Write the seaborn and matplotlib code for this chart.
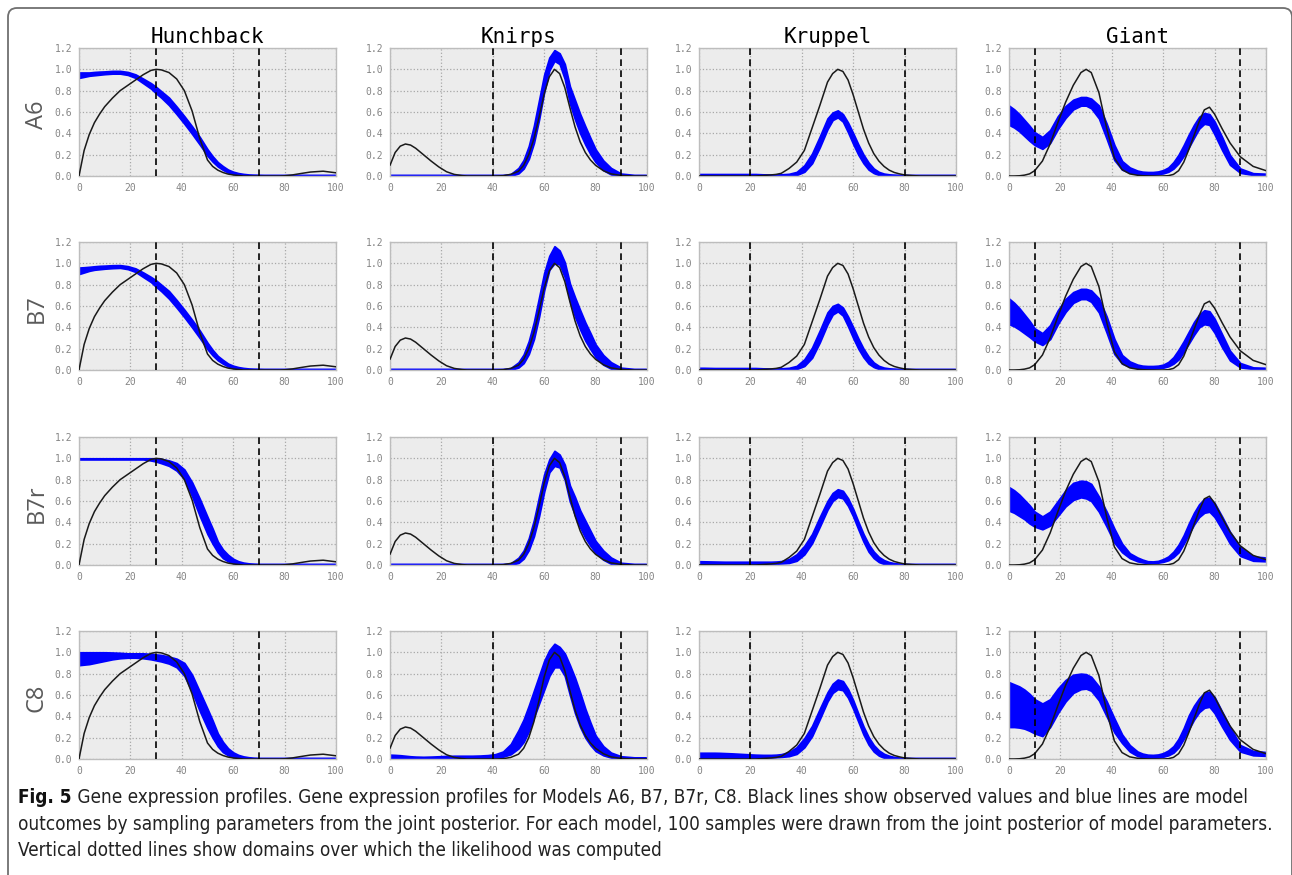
import matplotlib
matplotlib.use("Agg")
import matplotlib.pyplot as plt
import seaborn as sns
from matplotlib.patches import FancyBboxPatch
from matplotlib.transforms import IdentityTransform
from matplotlib import font_manager
from matplotlib.font_manager import FontProperties

# ---------------- data ----------------
GENES = ["Hunchback", "Knirps", "Kruppel", "Giant"]
MODELS = ["A6", "B7", "B7r", "C8"]
HB_DOMAIN = [30, 70]
KNI_DOMAIN = [40, 90]
KR_DOMAIN = [20, 80]
GT_DOMAIN = [10, 90]
X_TICKS = [0, 20, 40, 60, 80, 100]
Y_TICKS = [0.0, 0.2, 0.4, 0.6, 0.8, 1.0, 1.2]

X = [0, 2, 4, 6, 8, 10, 13, 16, 19, 22,
     25, 28, 30, 32, 35, 38, 41, 44, 47, 50,
     52, 54, 56, 58, 60, 62, 64, 66, 68, 70,
     72, 74, 76, 78, 80, 83, 86, 90, 95, 100]

# observed (black) profiles
HB_OBS = [0.0, 0.24, 0.39, 0.50, 0.58, 0.65, 0.73, 0.80, 0.85, 0.90,
          0.95, 0.99, 1.00, 0.995, 0.97, 0.91, 0.80, 0.61, 0.35, 0.15,
          0.09, 0.055, 0.033, 0.018, 0.01, 0.005, 0.0, 0.0, 0.0, 0.0,
          0.0, 0.0, 0.0, 0.0, 0.002, 0.01, 0.022, 0.037, 0.045, 0.03]
KNI_OBS = [0.10, 0.22, 0.28, 0.30, 0.29, 0.26, 0.20, 0.14, 0.085, 0.04,
           0.015, 0.004, 0.0, 0.0, 0.0, 0.0, 0.0, 0.003, 0.015, 0.045,
           0.10, 0.20, 0.35, 0.55, 0.77, 0.93, 1.00, 0.96, 0.83, 0.64,
           0.46, 0.32, 0.22, 0.15, 0.10, 0.05, 0.02, 0.005, 0.0, 0.0]
KR_OBS = [0.0, 0.0, 0.0, 0.0, 0.0, 0.0, 0.0, 0.0, 0.0, 0.0,
          0.005, 0.01, 0.015, 0.025, 0.07, 0.13, 0.24, 0.45, 0.66, 0.88,
          0.96, 1.00, 0.98, 0.90, 0.76, 0.60, 0.44, 0.31, 0.21, 0.14,
          0.09, 0.055, 0.033, 0.02, 0.01, 0.004, 0.0, 0.0, 0.0, 0.0]
GT_OBS = [0.0, 0.0, 0.002, 0.008, 0.02, 0.05, 0.14, 0.30, 0.50, 0.69,
          0.85, 0.97, 1.00, 0.97, 0.78, 0.45, 0.17, 0.06, 0.02, 0.007,
          0.003, 0.001, 0.0, 0.0, 0.0, 0.003, 0.015, 0.05, 0.13, 0.25,
          0.38, 0.51, 0.62, 0.645, 0.58, 0.44, 0.31, 0.18, 0.09, 0.05]

# model outcomes (blue): lower / upper envelope of the 100 posterior samples
HB_A6_LO = [0.92, 0.93, 0.94, 0.945, 0.95, 0.955, 0.96, 0.96, 0.948, 0.92,
            0.87, 0.82, 0.775, 0.735, 0.665, 0.58, 0.49, 0.395, 0.295, 0.19,
            0.135, 0.09, 0.058, 0.033, 0.02, 0.011, 0.006, 0.004, 0.003, 0.002,
            0.002, 0.002, 0.002, 0.002, 0.002, 0.002, 0.002, 0.002, 0.002, 0.002]
HB_A6_HI = [0.97, 0.97, 0.97, 0.975, 0.978, 0.98, 0.985, 0.985, 0.975, 0.952,
            0.912, 0.87, 0.835, 0.795, 0.735, 0.65, 0.56, 0.465, 0.365, 0.25,
            0.185, 0.13, 0.092, 0.06, 0.04, 0.027, 0.019, 0.014, 0.012, 0.011,
            0.01, 0.01, 0.01, 0.01, 0.01, 0.01, 0.01, 0.01, 0.01, 0.01]
HB_B7_LO = [0.90, 0.915, 0.93, 0.94, 0.945, 0.95, 0.955, 0.958, 0.946, 0.92,
            0.872, 0.825, 0.78, 0.74, 0.67, 0.585, 0.495, 0.4, 0.3, 0.195,
            0.138, 0.092, 0.06, 0.034, 0.02, 0.011, 0.006, 0.004, 0.003, 0.002,
            0.002, 0.002, 0.002, 0.002, 0.002, 0.002, 0.002, 0.002, 0.002, 0.002]
HB_B7_HI = [0.96, 0.963, 0.967, 0.972, 0.976, 0.978, 0.982, 0.983, 0.973, 0.952,
            0.914, 0.872, 0.84, 0.8, 0.74, 0.655, 0.565, 0.47, 0.37, 0.255,
            0.188, 0.132, 0.094, 0.06, 0.04, 0.027, 0.019, 0.014, 0.012, 0.011,
            0.01, 0.01, 0.01, 0.01, 0.01, 0.01, 0.01, 0.01, 0.01, 0.01]
HB_B7R_LO = [0.99, 0.99, 0.99, 0.99, 0.99, 0.99, 0.99, 0.99, 0.99, 0.99,
             0.99, 0.98, 0.97, 0.955, 0.93, 0.885, 0.805, 0.645, 0.46, 0.29,
             0.20, 0.12, 0.065, 0.035, 0.018, 0.01, 0.005, 0.003, 0.002, 0.002,
             0.002, 0.002, 0.002, 0.002, 0.002, 0.002, 0.002, 0.002, 0.002, 0.002]
HB_B7R_HI = [1.0, 1.0, 1.0, 1.0, 1.0, 1.0, 1.0, 1.0, 1.0, 1.0,
             1.0, 1.0, 1.0, 0.995, 0.98, 0.955, 0.895, 0.775, 0.62, 0.45,
             0.34, 0.22, 0.145, 0.095, 0.058, 0.035, 0.022, 0.015, 0.012, 0.01,
             0.01, 0.01, 0.01, 0.01, 0.01, 0.01, 0.01, 0.01, 0.01, 0.01]
HB_C8_LO = [0.88, 0.885, 0.89, 0.90, 0.91, 0.92, 0.935, 0.945, 0.95, 0.95,
            0.945, 0.935, 0.925, 0.915, 0.895, 0.86, 0.78, 0.63, 0.45, 0.29,
            0.20, 0.12, 0.065, 0.035, 0.018, 0.01, 0.005, 0.003, 0.002, 0.002,
            0.002, 0.002, 0.002, 0.002, 0.002, 0.002, 0.002, 0.002, 0.002, 0.002]
HB_C8_HI = [1.0, 1.0, 1.0, 1.0, 1.0, 1.0, 0.998, 0.995, 0.99, 0.99,
            0.99, 0.985, 0.98, 0.975, 0.96, 0.94, 0.90, 0.79, 0.63, 0.47,
            0.36, 0.24, 0.16, 0.10, 0.062, 0.038, 0.024, 0.016, 0.012, 0.01,
            0.01, 0.01, 0.01, 0.01, 0.01, 0.01, 0.01, 0.01, 0.01, 0.01]

KNI_A6_LO = [0.0, 0.0, 0.0, 0.0, 0.0, 0.0, 0.0, 0.0, 0.0, 0.0,
             0.0, 0.0, 0.0, 0.0, 0.0, 0.0, 0.0, 0.0, 0.002, 0.025,
             0.07, 0.16, 0.31, 0.53, 0.79, 0.99, 1.08, 1.05, 0.91, 0.68,
             0.53, 0.40, 0.295, 0.205, 0.13, 0.055, 0.015, 0.002, 0.0, 0.0]
KNI_A6_HI = [0.01, 0.01, 0.01, 0.01, 0.01, 0.01, 0.01, 0.01, 0.01, 0.01,
             0.01, 0.01, 0.01, 0.01, 0.01, 0.01, 0.01, 0.01, 0.018, 0.075,
             0.15, 0.28, 0.47, 0.71, 0.95, 1.11, 1.18, 1.15, 1.05, 0.84,
             0.71, 0.58, 0.465, 0.355, 0.25, 0.145, 0.075, 0.022, 0.01, 0.01]
KNI_B7_LO = [0.0, 0.0, 0.0, 0.0, 0.0, 0.0, 0.0, 0.0, 0.0, 0.0,
             0.0, 0.0, 0.0, 0.0, 0.0, 0.0, 0.0, 0.0, 0.002, 0.024,
             0.065, 0.15, 0.29, 0.50, 0.75, 0.94, 1.00, 0.99, 0.87, 0.65,
             0.50, 0.38, 0.275, 0.195, 0.12, 0.05, 0.013, 0.002, 0.0, 0.0]
KNI_B7_HI = [0.01, 0.01, 0.01, 0.01, 0.01, 0.01, 0.01, 0.01, 0.01, 0.01,
             0.01, 0.01, 0.01, 0.01, 0.01, 0.01, 0.01, 0.01, 0.018, 0.072,
             0.145, 0.27, 0.45, 0.68, 0.91, 1.07, 1.16, 1.12, 1.01, 0.81,
             0.68, 0.56, 0.445, 0.345, 0.24, 0.14, 0.073, 0.021, 0.01, 0.01]
KNI_B7R_LO = [0.0, 0.0, 0.0, 0.0, 0.0, 0.0, 0.0, 0.0, 0.0, 0.0,
              0.0, 0.0, 0.0, 0.0, 0.0, 0.0, 0.0, 0.0, 0.002, 0.02,
              0.06, 0.14, 0.27, 0.46, 0.69, 0.87, 0.93, 0.915, 0.80, 0.595,
              0.465, 0.35, 0.255, 0.18, 0.115, 0.05, 0.012, 0.002, 0.0, 0.0]
KNI_B7R_HI = [0.01, 0.01, 0.01, 0.01, 0.01, 0.01, 0.01, 0.01, 0.01, 0.01,
              0.01, 0.01, 0.01, 0.01, 0.01, 0.01, 0.01, 0.01, 0.016, 0.068,
              0.135, 0.25, 0.42, 0.64, 0.85, 0.99, 1.07, 1.035, 0.94, 0.745,
              0.635, 0.51, 0.415, 0.32, 0.225, 0.135, 0.07, 0.02, 0.01, 0.01]
KNI_C8_LO = [0.01, 0.01, 0.008, 0.006, 0.005, 0.005, 0.005, 0.006, 0.008, 0.01,
             0.01, 0.01, 0.01, 0.01, 0.01, 0.012, 0.015, 0.022, 0.045, 0.10,
             0.16, 0.26, 0.39, 0.52, 0.65, 0.78, 0.86, 0.86, 0.78, 0.60,
             0.43, 0.30, 0.20, 0.13, 0.075, 0.035, 0.014, 0.006, 0.005, 0.005]
KNI_C8_HI = [0.04, 0.038, 0.035, 0.03, 0.025, 0.022, 0.02, 0.022, 0.025, 0.028,
             0.03, 0.03, 0.03, 0.03, 0.032, 0.036, 0.045, 0.07, 0.14, 0.27,
             0.37, 0.50, 0.64, 0.78, 0.92, 1.02, 1.08, 1.05, 0.99, 0.88,
             0.76, 0.62, 0.47, 0.34, 0.22, 0.12, 0.06, 0.025, 0.015, 0.015]

KR_A6_LO = [0.005, 0.005, 0.005, 0.005, 0.005, 0.005, 0.005, 0.005, 0.005, 0.005,
            0.004, 0.004, 0.004, 0.004, 0.005, 0.01, 0.04, 0.12, 0.27, 0.44,
            0.525, 0.55, 0.51, 0.41, 0.30, 0.20, 0.12, 0.06, 0.028, 0.01,
            0.004, 0.003, 0.002, 0.002, 0.002, 0.002, 0.002, 0.002, 0.002, 0.002]
KR_A6_HI = [0.018, 0.018, 0.018, 0.018, 0.018, 0.018, 0.018, 0.018, 0.018, 0.018,
            0.015, 0.014, 0.014, 0.015, 0.02, 0.038, 0.10, 0.21, 0.37, 0.54,
            0.595, 0.615, 0.58, 0.50, 0.40, 0.295, 0.20, 0.125, 0.07, 0.038,
            0.022, 0.015, 0.012, 0.01, 0.01, 0.01, 0.01, 0.01, 0.01, 0.01]
KR_B7_LO = [0.005, 0.005, 0.005, 0.005, 0.005, 0.005, 0.005, 0.005, 0.005, 0.005,
            0.004, 0.004, 0.004, 0.004, 0.005, 0.01, 0.038, 0.115, 0.26, 0.43,
            0.52, 0.55, 0.51, 0.41, 0.30, 0.20, 0.12, 0.06, 0.028, 0.01,
            0.004, 0.003, 0.002, 0.002, 0.002, 0.002, 0.002, 0.002, 0.002, 0.002]
KR_B7_HI = [0.02, 0.02, 0.019, 0.018, 0.018, 0.018, 0.018, 0.018, 0.018, 0.018,
            0.015, 0.014, 0.014, 0.015, 0.02, 0.038, 0.10, 0.21, 0.37, 0.54,
            0.60, 0.62, 0.585, 0.50, 0.40, 0.295, 0.20, 0.125, 0.07, 0.038,
            0.022, 0.015, 0.012, 0.01, 0.01, 0.01, 0.01, 0.01, 0.01, 0.01]
KR_B7R_LO = [0.012, 0.01, 0.01, 0.01, 0.01, 0.01, 0.01, 0.01, 0.01, 0.01,
             0.01, 0.01, 0.012, 0.015, 0.02, 0.04, 0.10, 0.205, 0.36, 0.52,
             0.60, 0.638, 0.625, 0.555, 0.455, 0.335, 0.22, 0.125, 0.065, 0.028,
             0.01, 0.004, 0.002, 0.002, 0.002, 0.002, 0.002, 0.002, 0.002, 0.002]
KR_B7R_HI = [0.035, 0.034, 0.033, 0.032, 0.031, 0.03, 0.03, 0.03, 0.03, 0.03,
             0.03, 0.03, 0.032, 0.036, 0.055, 0.10, 0.18, 0.29, 0.45, 0.60,
             0.675, 0.71, 0.695, 0.625, 0.525, 0.405, 0.29, 0.195, 0.125, 0.075,
             0.045, 0.027, 0.017, 0.012, 0.01, 0.01, 0.01, 0.01, 0.01, 0.01]
KR_C8_LO = [0.0, 0.0, 0.0, 0.0, 0.0, 0.002, 0.004, 0.006, 0.01, 0.012,
            0.014, 0.015, 0.017, 0.02, 0.027, 0.048, 0.11, 0.215, 0.375, 0.54,
            0.62, 0.655, 0.645, 0.575, 0.47, 0.35, 0.23, 0.135, 0.07, 0.032,
            0.012, 0.005, 0.003, 0.002, 0.002, 0.002, 0.002, 0.002, 0.002, 0.002]
KR_C8_HI = [0.058, 0.058, 0.058, 0.058, 0.057, 0.055, 0.052, 0.048, 0.044, 0.04,
            0.038, 0.038, 0.04, 0.045, 0.065, 0.11, 0.195, 0.31, 0.47, 0.625,
            0.705, 0.745, 0.73, 0.655, 0.55, 0.425, 0.305, 0.205, 0.13, 0.08,
            0.048, 0.03, 0.018, 0.013, 0.01, 0.01, 0.01, 0.01, 0.01, 0.01]

GT_A6_LO = [0.48, 0.455, 0.42, 0.375, 0.33, 0.29, 0.255, 0.31, 0.44, 0.545,
            0.625, 0.66, 0.66, 0.635, 0.54, 0.35, 0.15, 0.06, 0.03, 0.02,
            0.016, 0.013, 0.013, 0.018, 0.025, 0.04, 0.07, 0.12, 0.19, 0.27,
            0.36, 0.445, 0.49, 0.48, 0.39, 0.24, 0.105, 0.03, 0.01, 0.009]
GT_A6_HI = [0.66, 0.625, 0.58, 0.525, 0.47, 0.41, 0.365, 0.43, 0.56, 0.655,
            0.715, 0.74, 0.74, 0.725, 0.66, 0.49, 0.29, 0.14, 0.08, 0.05,
            0.04, 0.037, 0.037, 0.042, 0.055, 0.08, 0.13, 0.20, 0.29, 0.39,
            0.48, 0.555, 0.59, 0.58, 0.51, 0.36, 0.195, 0.07, 0.026, 0.021]
GT_B7_LO = [0.43, 0.41, 0.38, 0.345, 0.31, 0.27, 0.235, 0.29, 0.43, 0.545,
            0.63, 0.665, 0.665, 0.64, 0.54, 0.35, 0.15, 0.06, 0.03, 0.02,
            0.016, 0.013, 0.013, 0.017, 0.022, 0.035, 0.06, 0.10, 0.17, 0.25,
            0.33, 0.40, 0.43, 0.42, 0.35, 0.21, 0.09, 0.025, 0.01, 0.009]
GT_B7_HI = [0.67, 0.63, 0.58, 0.52, 0.46, 0.39, 0.345, 0.42, 0.56, 0.665,
            0.73, 0.76, 0.76, 0.745, 0.67, 0.50, 0.29, 0.14, 0.08, 0.05,
            0.04, 0.037, 0.037, 0.04, 0.05, 0.075, 0.12, 0.19, 0.27, 0.36,
            0.45, 0.52, 0.56, 0.55, 0.48, 0.33, 0.18, 0.065, 0.024, 0.02]
GT_B7R_LO = [0.51, 0.49, 0.46, 0.43, 0.39, 0.36, 0.335, 0.37, 0.46, 0.55,
             0.61, 0.635, 0.625, 0.60, 0.50, 0.36, 0.21, 0.12, 0.065, 0.035,
             0.025, 0.02, 0.02, 0.022, 0.03, 0.045, 0.075, 0.12, 0.20, 0.29,
             0.38, 0.45, 0.49, 0.50, 0.45, 0.33, 0.20, 0.085, 0.04, 0.035]
GT_B7R_HI = [0.73, 0.70, 0.66, 0.61, 0.56, 0.50, 0.455, 0.50, 0.60, 0.70,
             0.77, 0.79, 0.785, 0.76, 0.64, 0.50, 0.34, 0.20, 0.11, 0.07,
             0.05, 0.035, 0.033, 0.038, 0.055, 0.08, 0.125, 0.19, 0.28, 0.39,
             0.49, 0.57, 0.62, 0.63, 0.58, 0.45, 0.31, 0.17, 0.08, 0.07]
GT_C8_LO = [0.30, 0.30, 0.295, 0.285, 0.265, 0.24, 0.215, 0.30, 0.43, 0.54,
            0.62, 0.655, 0.66, 0.64, 0.55, 0.40, 0.25, 0.15, 0.07, 0.028,
            0.018, 0.013, 0.012, 0.015, 0.022, 0.035, 0.06, 0.11, 0.19, 0.28,
            0.37, 0.44, 0.48, 0.49, 0.43, 0.30, 0.18, 0.07, 0.035, 0.03]
GT_C8_HI = [0.72, 0.70, 0.68, 0.65, 0.61, 0.56, 0.52, 0.56, 0.66, 0.74,
            0.79, 0.80, 0.795, 0.77, 0.68, 0.54, 0.38, 0.23, 0.13, 0.07,
            0.05, 0.04, 0.038, 0.042, 0.055, 0.08, 0.12, 0.19, 0.29, 0.41,
            0.50, 0.57, 0.62, 0.63, 0.58, 0.44, 0.30, 0.13, 0.075, 0.065]

CAPTION_BOLD = "Fig. 5"
CAPTION_1 = (" Gene expression profiles. Gene expression profiles for Models A6, B7, B7r, C8. "
             "Black lines show observed values and blue lines are model")
CAPTION_2 = ("outcomes by sampling parameters from the joint posterior. For each model, "
             "100 samples were drawn from the joint posterior of model parameters.")
CAPTION_3 = "Vertical dotted lines show domains over which the likelihood was computed"

OBS = {"Hunchback": HB_OBS, "Knirps": KNI_OBS, "Kruppel": KR_OBS, "Giant": GT_OBS}
DOMAINS = {"Hunchback": HB_DOMAIN, "Knirps": KNI_DOMAIN, "Kruppel": KR_DOMAIN, "Giant": GT_DOMAIN}
BANDS = {
    ("A6", "Hunchback"): (HB_A6_LO, HB_A6_HI), ("B7", "Hunchback"): (HB_B7_LO, HB_B7_HI),
    ("B7r", "Hunchback"): (HB_B7R_LO, HB_B7R_HI), ("C8", "Hunchback"): (HB_C8_LO, HB_C8_HI),
    ("A6", "Knirps"): (KNI_A6_LO, KNI_A6_HI), ("B7", "Knirps"): (KNI_B7_LO, KNI_B7_HI),
    ("B7r", "Knirps"): (KNI_B7R_LO, KNI_B7R_HI), ("C8", "Knirps"): (KNI_C8_LO, KNI_C8_HI),
    ("A6", "Kruppel"): (KR_A6_LO, KR_A6_HI), ("B7", "Kruppel"): (KR_B7_LO, KR_B7_HI),
    ("B7r", "Kruppel"): (KR_B7R_LO, KR_B7R_HI), ("C8", "Kruppel"): (KR_C8_LO, KR_C8_HI),
    ("A6", "Giant"): (GT_A6_LO, GT_A6_HI), ("B7", "Giant"): (GT_B7_LO, GT_B7_HI),
    ("B7r", "Giant"): (GT_B7R_LO, GT_B7R_HI), ("C8", "Giant"): (GT_C8_LO, GT_C8_HI),
}
for k, (lo, hi) in BANDS.items():
    assert len(lo) == len(X) and len(hi) == len(X), k
for k, v in OBS.items():
    assert len(v) == len(X), k

# ---------------- style ----------------
sns.set_style("whitegrid", {
    "axes.facecolor": "#ECECEC",
    "axes.edgecolor": "#BDBDBD",
    "grid.color": "#A8A8A8",
    "grid.linestyle": ":",
})
plt.rcParams["grid.linewidth"] = 0.9
plt.rcParams["axes.linewidth"] = 1.0

W_PX, H_PX = 1292, 875
fig = plt.figure(figsize=(W_PX / 100, H_PX / 100), dpi=100)
fig.patch.set_facecolor("white")

COL_LEFT = [79, 390, 699, 1009]
ROW_TOP = [48, 242, 437, 631]
AX_W, AX_H = 257, 128

MONO = "DejaVu Sans Mono"

for r, model in enumerate(MODELS):
    for c, gene in enumerate(GENES):
        l, t = COL_LEFT[c], ROW_TOP[r]
        ax = fig.add_axes([l / W_PX, 1 - (t + AX_H) / H_PX, AX_W / W_PX, AX_H / H_PX])
        lo, hi = BANDS[(model, gene)]
        ax.fill_between(X, lo, hi, facecolor="#0000FF", edgecolor="#0000FF",
                        linewidth=1.3, zorder=2)
        sns.lineplot(x=X, y=OBS[gene], ax=ax, color="#1a1a1a", linewidth=1.1, zorder=3)
        for v in DOMAINS[gene]:
            ax.axvline(v, color="black", linestyle=(0, (4, 2.6)), linewidth=1.2, zorder=4)
        ax.set_xlim(0, 100)
        ax.set_ylim(0, 1.2)
        ax.set_xticks(X_TICKS)
        ax.set_yticks(Y_TICKS)
        ax.set_xticklabels([str(v) for v in X_TICKS])
        ax.set_yticklabels([f"{v:.1f}" for v in Y_TICKS])
        ax.tick_params(length=0, pad=5, labelsize=7, labelcolor="#858585")
        for lbl in ax.get_xticklabels() + ax.get_yticklabels():
            lbl.set_fontfamily(MONO)
        ax.set_xlabel("")
        ax.set_ylabel("")
        ax.grid(True, zorder=0)
        ax.set_axisbelow(True)
        for s in ax.spines.values():
            s.set_color("#BDBDBD")
            s.set_linewidth(1.0)
        if r == 0:
            fig.text((l + AX_W / 2) / W_PX, 1 - 43 / H_PX, gene, ha="center", va="baseline",
                     fontsize=15, family=MONO, color="black")
    fig.text(37 / W_PX, 1 - (ROW_TOP[r] + AX_H / 2 + 3) / H_PX, model, rotation=90,
             ha="center", va="center", fontsize=17, family="Open Sans", color="#5a5a5a")

# border (top / left edges and the top-right corner fall inside the image)
border = FancyBboxPatch((8, -60), 1284, 867 + 60, boxstyle="round,pad=0,rounding_size=9",
                        transform=IdentityTransform(), facecolor="none",
                        edgecolor="#707070", linewidth=1.3, zorder=0)
border.set_snap(False)
fig.add_artist(border)


# caption font: prefer a condensed / narrow sans face
def _wnum(w):
    if isinstance(w, (int, float)):
        return w
    return {"normal": 400, "regular": 400, "book": 400, "medium": 500,
            "semibold": 600, "bold": 700}.get(str(w).lower(), 400)


def pick_condensed(target_weight):
    best, best_score = None, None
    for f in font_manager.fontManager.ttflist:
        nm = f.name
        cond = ("Narrow" in nm) or ("Condensed" in nm) or \
               (str(f.stretch) in ("condensed", "semi-condensed", "extra-condensed"))
        if not cond or f.style != "normal":
            continue
        if "Mono" in nm or "Serif" in nm:
            continue
        score = abs(_wnum(f.weight) - target_weight)
        if "ExtraCondensed" in nm or str(f.stretch) == "extra-condensed":
            score += 150
        if best_score is None or score < best_score:
            best, best_score = f, score
    if best is None:
        return None
    return FontProperties(fname=best.fname)


reg_fp = pick_condensed(400)
bold_fp = pick_condensed(700)
if reg_fp is None:
    reg_fp = FontProperties(family="Liberation Sans")
    bold_fp = FontProperties(family="Liberation Sans", weight="bold")

fig.canvas.draw()
rend = fig.canvas.get_renderer()
probe_fp = reg_fp.copy()
probe_fp.set_size(14)
probe = fig.text(0, 0, CAPTION_2, fontproperties=probe_fp)
pw = probe.get_window_extent(rend).width
probe.remove()
cap_size = 14 * 1266 / pw
reg_fp.set_size(cap_size)
bold_fp.set_size(cap_size)

x0 = 18
tb = fig.text(x0 / W_PX, 1 - 803 / H_PX, CAPTION_BOLD, fontproperties=bold_fp,
              fontweight="bold", color="#111111", va="baseline")
bw = tb.get_window_extent(rend).width
fig.text((x0 + bw) / W_PX, 1 - 803 / H_PX, CAPTION_1, fontproperties=reg_fp,
         color="#222222", va="baseline")
fig.text(x0 / W_PX, 1 - 830 / H_PX, CAPTION_2, fontproperties=reg_fp,
         color="#222222", va="baseline")
fig.text(x0 / W_PX, 1 - 856 / H_PX, CAPTION_3, fontproperties=reg_fp,
         color="#222222", va="baseline")

fig.savefig("out.png", dpi=100, facecolor="white")
